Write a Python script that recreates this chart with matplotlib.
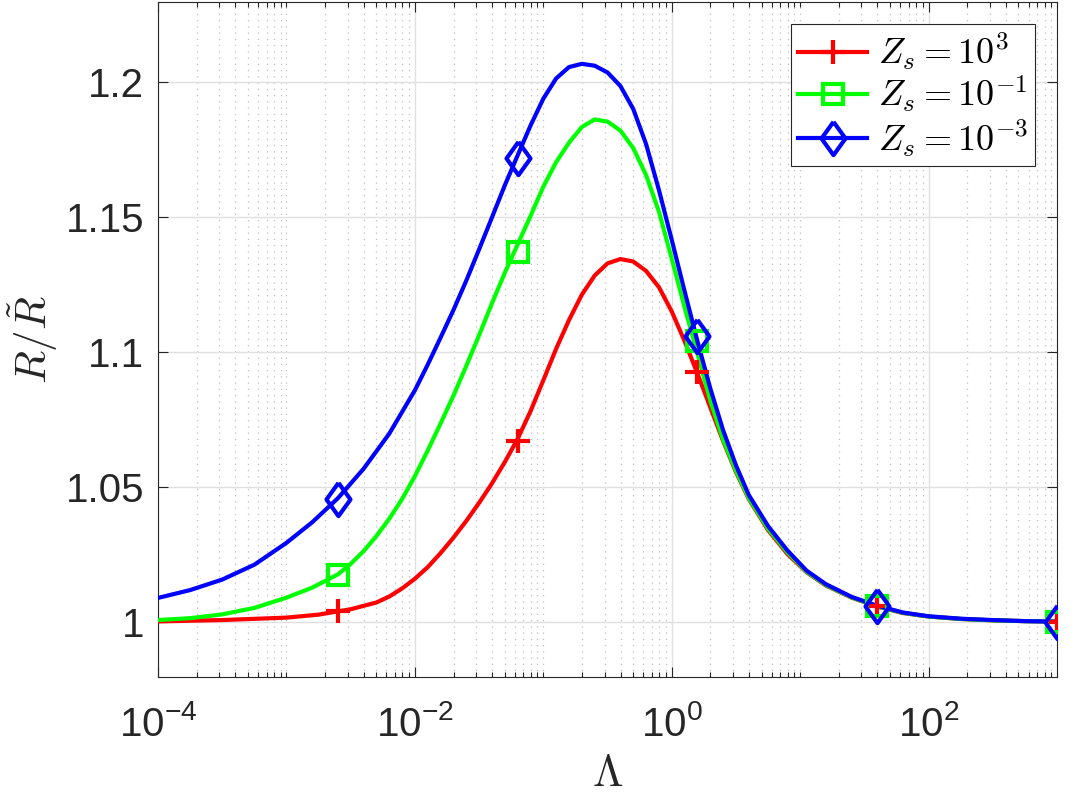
import numpy as np
import matplotlib
matplotlib.use("Agg")
import matplotlib.pyplot as plt
from matplotlib.lines import Line2D
from matplotlib.ticker import FixedLocator, LogLocator, NullLocator, NullFormatter

plt.rcParams['font.family'] = ['Liberation Sans', 'DejaVu Sans']
plt.rcParams['mathtext.fontset'] = 'cm'

# curves, x given as log10(Lambda)
red_exp = [-4.0, -3.5, -3.0, -2.75, -2.5, -2.3, -2.2, -2.1, -2.0, -1.9, -1.8, -1.7, -1.6,
           -1.5, -1.4, -1.3, -1.2, -1.1, -1.0, -0.9, -0.8, -0.7, -0.6, -0.5, -0.4, -0.3,
           -0.2, -0.1, 0.0, 0.1, 0.2, 0.3, 0.4, 0.5, 0.6, 0.75, 0.9, 1.05, 1.2, 1.4, 1.6,
           1.8, 2.0, 2.25, 2.5, 2.75, 3.0]
red_val = [1.0002, 1.0007, 1.0016, 1.0027, 1.0047, 1.0072, 1.0094, 1.0124, 1.0160, 1.0203,
           1.0255, 1.0312, 1.0374, 1.0441, 1.0513, 1.0592, 1.0678, 1.0780, 1.0895, 1.1012,
           1.1118, 1.1212, 1.1283, 1.1328, 1.1344, 1.1335, 1.1300, 1.1240, 1.1150, 1.1040,
           1.0920, 1.0795, 1.0670, 1.0555, 1.0455, 1.0340, 1.0252, 1.0184, 1.0135, 1.0090,
           1.0057, 1.0033, 1.0020, 1.0011, 1.0006, 1.0003, 1.0001]

green_exp = [-4.0, -3.75, -3.5, -3.25, -3.0, -2.8, -2.6, -2.5, -2.4, -2.3, -2.2, -2.1, -2.0,
             -1.9, -1.8, -1.7, -1.6, -1.5, -1.4, -1.3, -1.2, -1.1, -1.0, -0.9, -0.8, -0.7,
             -0.6, -0.5, -0.4, -0.3, -0.2, -0.1, 0.0, 0.1, 0.2, 0.3, 0.4, 0.5, 0.6, 0.75,
             0.9, 1.05, 1.2, 1.4, 1.6, 1.8, 2.0, 2.25, 2.5, 2.75, 3.0]
green_val = [1.0007, 1.0014, 1.0028, 1.0052, 1.0090, 1.0127, 1.0176, 1.0215, 1.0262, 1.0318,
             1.0382, 1.0455, 1.0540, 1.0635, 1.0735, 1.0838, 1.0948, 1.1062, 1.1180, 1.1293,
             1.1398, 1.1503, 1.1612, 1.1703, 1.1775, 1.1833, 1.1861, 1.1853, 1.1820, 1.1755,
             1.1655, 1.1520, 1.1345, 1.1165, 1.0995, 1.0820, 1.0675, 1.0560, 1.0458, 1.0345,
             1.0258, 1.0186, 1.0137, 1.0091, 1.0058, 1.0034, 1.0020, 1.0011, 1.0006, 1.0003,
             1.0001]

blue_exp = [-4.0, -3.75, -3.5, -3.25, -3.0, -2.8, -2.6, -2.4, -2.2, -2.0, -1.9, -1.8, -1.7,
            -1.6, -1.5, -1.4, -1.3, -1.2, -1.1, -1.0, -0.9, -0.8, -0.7, -0.6, -0.5, -0.4,
            -0.3, -0.2, -0.1, 0.0, 0.1, 0.2, 0.3, 0.4, 0.5, 0.6, 0.75, 0.9, 1.05, 1.2, 1.4,
            1.6, 1.8, 2.0, 2.25, 2.5, 2.75, 3.0]
blue_val = [1.0089, 1.0118, 1.0157, 1.0212, 1.0293, 1.0369, 1.0458, 1.0567, 1.0697, 1.0858,
            1.0953, 1.1053, 1.1155, 1.1264, 1.1380, 1.1498, 1.1617, 1.1728, 1.1838, 1.1938,
            1.2013, 1.2055, 1.2067, 1.2060, 1.2035, 1.1985, 1.1900, 1.1770, 1.1600, 1.1415,
            1.1225, 1.1040, 1.0865, 1.0710, 1.0580, 1.0470, 1.0355, 1.0265, 1.0190, 1.0140,
            1.0093, 1.0060, 1.0035, 1.0021, 1.0012, 1.0007, 1.0003, 1.0001]

# marker samples
marker_exp = [-2.6, -1.2, 0.2, 1.6, 3.0]
red_mark = [1.004, 1.067, 1.0926, 1.006, 1.0]
green_mark = [1.0174, 1.137, 1.104, 1.006, 1.0]
blue_mark = [1.0456, 1.172, 1.106, 1.006, 1.0]

labels = [r'$Z_s = 10^3$', r'$Z_s = 10^{-1}$', r'$Z_s = 10^{-3}$']
yticks = [1.0, 1.05, 1.1, 1.15, 1.2]
ytick_labels = ['1', '1.05', '1.1', '1.15', '1.2']
xticks = [1e-4, 1e-2, 1e0, 1e2]
xtick_labels = [r'$\mathregular{10^{-4}}$', r'$\mathregular{10^{-2}}$',
                r'$\mathregular{10^{0}}$', r'$\mathregular{10^{2}}$']

diamond = [(0, 1), (0.72, 0), (0, -1), (-0.72, 0), (0, 1)]
lw = 3.0
styles = [
    dict(color=(1, 0, 0), marker='+', ms=17),
    dict(color=(0, 1, 0), marker='s', ms=15),
    dict(color=(0, 0, 1), marker=diamond, ms=24),
]

fig = plt.figure(figsize=(10.73, 7.98), dpi=100)
ax = fig.add_axes([0.1473, 0.1516, 0.8378, 0.8459])
ax.set_axisbelow(True)

curves = [(red_exp, red_val), (green_exp, green_val), (blue_exp, blue_val)]
marks = [red_mark, green_mark, blue_mark]

for (ex, val), st in zip(curves, styles):
    ax.plot(np.power(10.0, ex), val, color=st['color'], lw=lw, zorder=3,
            solid_joinstyle='round')
for mk, st in zip(marks, styles):
    ax.plot(np.power(10.0, marker_exp), mk, ls='none', marker=st['marker'],
            ms=st['ms'], mfc='none', mec=st['color'], mew=lw, zorder=4)

ax.set_xscale('log')
ax.set_xlim(1e-4, 1e3)
ax.set_ylim(0.9796, 1.2296)
ax.xaxis.set_major_locator(FixedLocator(xticks))
ax.xaxis.set_minor_locator(LogLocator(base=10, subs=np.arange(1, 10), numticks=50))
ax.xaxis.set_minor_formatter(NullFormatter())
ax.set_xticklabels(xtick_labels)
ax.set_yticks(yticks)
ax.set_yticklabels(ytick_labels)
ax.yaxis.set_minor_locator(NullLocator())

axcol = (0.15, 0.15, 0.15)
for sp in ax.spines.values():
    sp.set_color(axcol)
    sp.set_linewidth(0.8)
ax.tick_params(which='both', direction='in', top=True, right=True, color=axcol,
               labelcolor=axcol, width=0.8)
ax.tick_params(which='major', length=7, labelsize=29)
ax.tick_params(which='minor', length=3.6)
ax.tick_params(axis='x', pad=20)
ax.tick_params(axis='y', pad=10)

ax.grid(which='major', color='0.88', lw=1.0, ls='-')
ax.grid(which='minor', axis='x', color='0.75', lw=0.9, ls=(0, (1, 4)))

ax.set_xlabel(r'$\Lambda$', fontsize=32, color=axcol, labelpad=7)
ax.set_ylabel(r'$R/\tilde{R}$', fontsize=31, color=axcol, labelpad=4)

handles = [Line2D([], [], color=st['color'], lw=lw, marker=st['marker'], ms=st['ms'],
                  mfc='none', mew=lw) for st in styles]
leg = ax.legend(handles, labels, loc='upper right', fontsize=26, frameon=True,
                fancybox=False, framealpha=1, edgecolor=axcol, borderaxespad=0.6,
                handlelength=1.9, handletextpad=0.3, labelspacing=0.05, borderpad=0.2)
leg.get_frame().set_linewidth(0.8)

fig.savefig('out.png', dpi=100)
